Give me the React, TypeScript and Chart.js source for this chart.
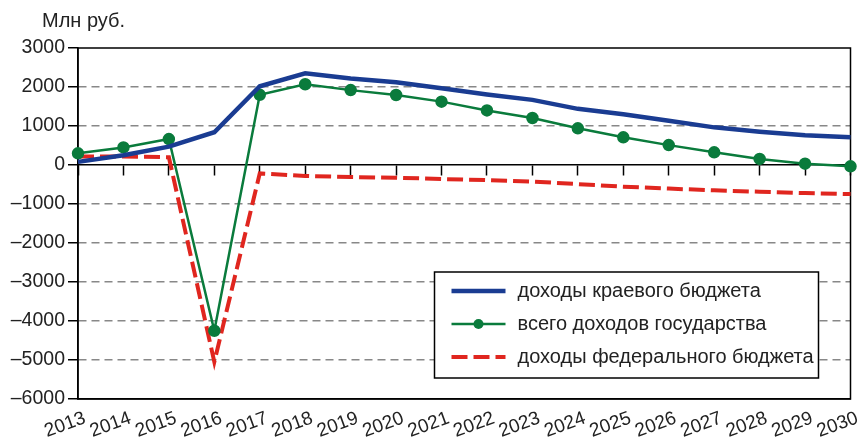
import React, { useEffect, useRef } from 'react';
import { Chart, registerables } from 'chart.js';

Chart.register(...registerables);

const years = ['2013', '2014', '2015', '2016', '2017', '2018', '2019', '2020', '2021', '2022', '2023', '2024', '2025', '2026', '2027', '2028', '2029', '2030'];
const kraevoy = [80, 250, 470, 840, 2020, 2350, 2220, 2120, 1970, 1810, 1670, 1440, 1300, 1135, 965, 855, 760, 710];
const vsego = [300, 450, 665, -4250, 1800, 2070, 1920, 1795, 1625, 1400, 1205, 940, 710, 510, 325, 155, 35, -35];
const federal = [220, 220, 200, -5050, -215, -280, -310, -325, -360, -385, -425, -490, -555, -605, -650, -685, -720, -745];
const seriesLabels = ['доходы краевого бюджета', 'всего доходов государства', 'доходы федерального бюджета'];
const unitLabel = 'Млн руб.';
const yMin = -6000;
const yMax = 3000;
const yStep = 1000;

const FONT = '"Liberation Sans", Arial, sans-serif';
const BLUE = '#1a3c92';
const GREEN = '#0a7b3c';
const RED = '#e0261f';

const framePlugin = {
  id: 'frame',
  beforeDatasetsDraw(chart: any) {
    const { ctx, chartArea } = chart;
    ctx.save();
    ctx.strokeStyle = '#000';
    ctx.lineWidth = 1.5;
    ctx.strokeRect(chartArea.left, chartArea.top, chartArea.right - chartArea.left, chartArea.bottom - chartArea.top);
    ctx.restore();
  },
};

const unitPlugin = {
  id: 'unit',
  afterDraw(chart: any) {
    const { ctx, chartArea } = chart;
    ctx.save();
    ctx.font = `20px ${FONT}`;
    ctx.fillStyle = '#222';
    ctx.textAlign = 'left';
    ctx.textBaseline = 'middle';
    ctx.fillText(unitLabel, chartArea.left - 36, 21);
    ctx.restore();
  },
};

const legendPlugin = {
  id: 'boxLegend',
  afterDraw(chart: any) {
    const { ctx, chartArea } = chart;
    const w = 384;
    const h = 106;
    const x = chartArea.right - 32 - w;
    const y = chartArea.bottom - 21 - h;
    ctx.save();
    ctx.fillStyle = '#fff';
    ctx.fillRect(x, y, w, h);
    ctx.strokeStyle = '#000';
    ctx.lineWidth = 1.5;
    ctx.strokeRect(x, y, w, h);
    chart.data.datasets.forEach((ds: any, i: number) => {
      const cy = y + 19 + i * 33;
      ctx.save();
      ctx.strokeStyle = ds.borderColor;
      ctx.lineWidth = ds.borderWidth;
      ctx.setLineDash(ds.borderDash || []);
      ctx.beginPath();
      ctx.moveTo(x + 17, cy);
      ctx.lineTo(x + 71, cy);
      ctx.stroke();
      if (ds.pointRadius > 0) {
        ctx.fillStyle = ds.pointBackgroundColor;
        ctx.beginPath();
        ctx.arc(x + 44, cy, ds.pointRadius, 0, Math.PI * 2);
        ctx.fill();
      }
      ctx.restore();
      ctx.font = `20px ${FONT}`;
      ctx.fillStyle = '#222';
      ctx.textAlign = 'left';
      ctx.textBaseline = 'middle';
      ctx.fillText(ds.label, x + 83, cy);
    });
    ctx.restore();
  },
};

export default function App() {
  const ref = useRef<HTMLCanvasElement>(null);
  useEffect(() => {
    document.body.style.margin = '0';
    const yTicks: number[] = [];
    for (let v = yMax; v >= yMin; v -= yStep) yTicks.push(v);
    const chart = new Chart(ref.current as HTMLCanvasElement, {
      type: 'line',
      data: {
        labels: years,
        datasets: [
          {
            label: seriesLabels[0],
            data: kraevoy,
            borderColor: BLUE,
            backgroundColor: BLUE,
            borderWidth: 4.5,
            pointRadius: 0,
            tension: 0,
          },
          {
            label: seriesLabels[1],
            data: vsego,
            borderColor: GREEN,
            backgroundColor: GREEN,
            pointBackgroundColor: GREEN,
            pointBorderColor: GREEN,
            borderWidth: 2.5,
            pointRadius: 5,
            tension: 0,
          },
          {
            label: seriesLabels[2],
            data: federal,
            borderColor: RED,
            backgroundColor: RED,
            borderWidth: 4,
            borderDash: [16, 6],
            pointRadius: 0,
            tension: 0,
          },
        ] as any,
      },
      options: {
        animation: false,
        responsive: false,
        maintainAspectRatio: false,
        layout: { padding: { left: 0, right: 6, top: 48, bottom: 0 } },
        plugins: { legend: { display: false }, tooltip: { enabled: false }, title: { display: false } },
        scales: {
          x: {
            type: 'category',
            offset: false,
            grid: { display: false, drawTicks: false },
            border: { display: true, color: '#000', width: 1.5 },
            ticks: {
              autoSkip: false,
              maxRotation: 20,
              minRotation: 20,
              padding: 8,
              labelOffset: 7,
              color: '#222',
              font: { family: FONT, size: 19 },
            },
            afterFit(scale: any) {
              scale.height = 47;
              scale.paddingLeft = 0;
              scale.paddingRight = 0;
            },
          },
          x2: {
            type: 'category',
            offset: false,
            position: { y: 0 } as any,
            grid: { drawOnChartArea: false, drawTicks: true, tickLength: 10, tickColor: '#000', tickWidth: 1.5 },
            border: { display: true, color: '#000', width: 1.5 },
            ticks: { display: false, autoSkip: false },
            afterFit(scale: any) {
              scale.paddingLeft = 0;
              scale.paddingRight = 0;
            },
          },
          y: {
            min: yMin,
            max: yMax,
            afterBuildTicks(scale: any) {
              scale.ticks = yTicks.map((v) => ({ value: v }));
            },
            grid: {
              color: (c: any) => (c.tick && (c.tick.value === 0 || c.tick.value === yMax || c.tick.value === yMin) ? 'rgba(0,0,0,0)' : '#888'),
              lineWidth: 1.5,
              tickLength: 10,
              tickColor: '#000',
              tickWidth: 1.5,
            },
            border: { display: true, color: '#000', width: 1.5, dash: [8, 5] },
            ticks: {
              color: '#222',
              padding: 3,
              font: { family: FONT, size: 19.5 },
              callback: (v: any) => (Number(v) < 0 ? '\u2013' + Math.abs(Number(v)) : String(v)),
            },
            afterFit(scale: any) {
              scale.width = 78;
            },
          },
        },
      } as any,
      plugins: [framePlugin, unitPlugin, legendPlugin],
    });
    return () => chart.destroy();
  }, []);
  return (
    <div style={{ width: 858, height: 446 }}>
      <canvas ref={ref} width={858} height={446} style={{ display: 'block', width: 858, height: 446 }} />
    </div>
  );
}
